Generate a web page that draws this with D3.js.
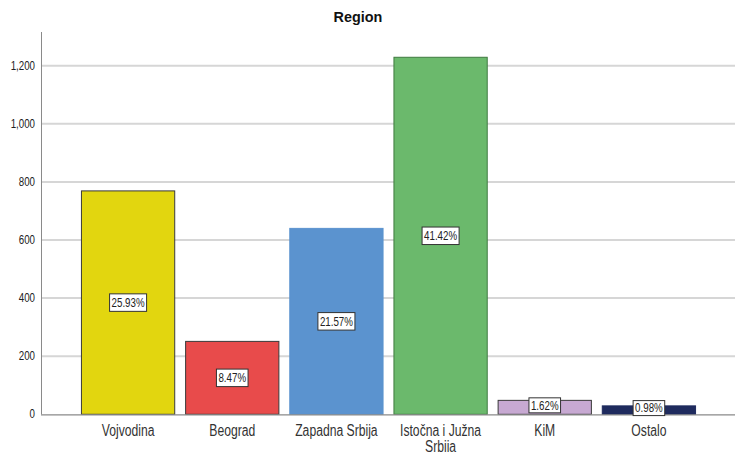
<!DOCTYPE html>
<html>
<head>
<meta charset="utf-8">
<script src="https://cdn.jsdelivr.net/npm/d3@7"></script>
<style>
  html, body { margin: 0; padding: 0; background: #fff; }
  svg { display: block; font-family: Arial, "Liberation Sans", sans-serif; }
</style>
</head>
<body>
<svg id="chart" width="735" height="452"></svg>
<script>
const title = "Region";
const categories = ["Vojvodina", "Beograd", "Zapadna Srbija", "Istočna i Južna Srbija", "KiM", "Ostalo"];
const categoryLines = [["Vojvodina"], ["Beograd"], ["Zapadna Srbija"], ["Istočna i Južna", "Srbija"], ["KiM"], ["Ostalo"]];
const counts = [769, 251, 640, 1229, 48, 29];
const percentLabels = ["25.93%", "8.47%", "21.57%", "41.42%", "1.62%", "0.98%"];
const barColors = ["#e2d60f", "#e84b4b", "#5b93cf", "#6bb96c", "#c7a9d2", "#1f2b5e"];
const barStrokes = ["#3a3a3a", "#3a3a3a", "#5b93cf", "#3f7a40", "#3a3a3a", "#1f2b5e"];
const yTicks = [0, 200, 400, 600, 800, 1000, 1200];

const svg = d3.select("#chart");
const mLeft = 41, mRight = 735, mTop = 32, mBottom = 414.3;

const x = d3.scaleBand().domain(categories).range([76, 701]).paddingInner(0.095).paddingOuter(0.0475);
const y = d3.scaleLinear().domain([0, 1316]).range([mBottom, mTop]);
const fmt = d3.format(",");

// gridlines
svg.append("g").selectAll("line").data(yTicks.filter(d => d > 0)).join("line")
  .attr("x1", mLeft).attr("x2", mRight)
  .attr("y1", d => y(d)).attr("y2", d => y(d))
  .attr("stroke", "#d6d6d6").attr("stroke-width", 2);

// y axis line
svg.append("line").attr("x1", mLeft + 0.5).attr("x2", mLeft + 0.5).attr("y1", mTop).attr("y2", mBottom)
  .attr("stroke", "#8a8a8a").attr("stroke-width", 1);

// y tick labels
svg.append("g").selectAll("text").data(yTicks).join("text")
  .attr("transform", d => `translate(35,${y(d) + 4}) scale(0.78,1)`)
  .attr("text-anchor", "end")
  .attr("font-size", 12.5)
  .attr("fill", "#222")
  .text(d => fmt(d));

// bars
svg.append("g").selectAll("rect").data(categories).join("rect")
  .attr("x", d => x(d) + 0.5)
  .attr("y", (d, i) => y(counts[i]))
  .attr("width", x.bandwidth() - 1)
  .attr("height", (d, i) => y(0) - y(counts[i]))
  .attr("fill", (d, i) => barColors[i])
  .attr("stroke", (d, i) => barStrokes[i])
  .attr("stroke-width", 1);

// x axis line
svg.append("line").attr("x1", mLeft).attr("x2", mRight).attr("y1", mBottom + 0.5).attr("y2", mBottom + 0.5)
  .attr("stroke", "#8a8a8a").attr("stroke-width", 1.2);

// percent labels
const lab = svg.append("g").selectAll("g").data(categories).join("g")
  .attr("transform", (d, i) => `translate(${x(d) + x.bandwidth() / 2},${(y(counts[i]) + y(0)) / 2})`);
lab.each(function(d, i) {
  const g = d3.select(this);
  const small = counts[i] < 100;
  const h = small ? 15 : 17.5;
  const t = g.append("text")
    .attr("transform", "scale(0.78,1)")
    .attr("text-anchor", "middle")
    .attr("dy", "0.35em")
    .attr("font-size", 12.5)
    .attr("fill", "#222")
    .text(percentLabels[i]);
  const w = t.node().getComputedTextLength() * 0.78 + 4;
  g.insert("rect", "text")
    .attr("x", -w / 2).attr("y", small ? -h / 2 - 2 : -h / 2)
    .attr("width", w).attr("height", h)
    .attr("fill", "#fff").attr("stroke", "#333").attr("stroke-width", 1);
  if (small) t.attr("y", -2);
});

// category labels
const cl = svg.append("g").selectAll("g").data(categories).join("g");
cl.each(function(d, i) {
  const g = d3.select(this);
  categoryLines[i].forEach((line, j) => {
    g.append("text")
      .attr("transform", `translate(${x(d) + x.bandwidth() / 2},${436.3 + j * 16}) scale(0.76,1)`)
      .attr("text-anchor", "middle")
      .attr("font-size", 16)
      .attr("fill", "#333")
      .text(line);
  });
});

// title
svg.append("text")
  .attr("transform", "translate(358,22) scale(0.93,1)")
  .attr("text-anchor", "middle")
  .attr("font-size", 15.5)
  .attr("font-weight", "bold")
  .attr("fill", "#111")
  .text(title);
</script>
</body>
</html>
